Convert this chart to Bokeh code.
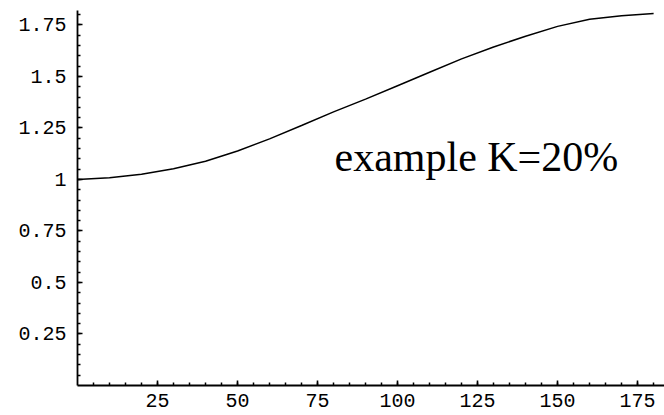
from bokeh.plotting import figure
from bokeh.models import Range1d, FixedTicker, Label, ColumnDataSource
from bokeh.embed import file_html
from bokeh.resources import INLINE

# data
xs = [0, 10, 20, 30, 40, 50, 60, 70, 80, 90, 100, 110, 120, 130, 140, 150, 160, 170, 180]
ys = [1.000, 1.008, 1.025, 1.052, 1.088, 1.138, 1.197, 1.262, 1.328, 1.390,
      1.455, 1.520, 1.585, 1.643, 1.695, 1.743, 1.778, 1.795, 1.805]
x_ticks = [25, 50, 75, 100, 125, 150, 175]
y_ticks = [0.25, 0.5, 0.75, 1.0, 1.25, 1.5, 1.75]
y_tick_labels = {0.25: "0.25", 0.5: "0.5", 0.75: "0.75", 1.0: "1",
                 1.25: "1.25", 1.5: "1.5", 1.75: "1.75"}
annotation = "example K=20%"

p = figure(width=664, height=415, output_backend="svg", toolbar_location=None,
           x_range=Range1d(0, 183.4), y_range=Range1d(0, 1.82),
           min_border_left=77, min_border_bottom=30, min_border_top=10,
           min_border_right=0)
p.outline_line_color = None
p.xgrid.visible = False
p.ygrid.visible = False
p.background_fill_color = "white"
p.border_fill_color = "white"

src = ColumnDataSource(dict(x=xs, y=ys))
p.line("x", "y", source=src, line_color="black", line_width=1.5)

for ax in (p.xaxis[0], p.yaxis[0]):
    ax.axis_line_width = 1.8
    ax.axis_line_color = "black"
    ax.major_tick_in = 5
    ax.major_tick_out = 0
    ax.minor_tick_in = 3
    ax.minor_tick_out = 0
    ax.major_tick_line_width = 1.6
    ax.minor_tick_line_width = 1.5
    ax.major_tick_line_color = "black"
    ax.minor_tick_line_color = "black"
    ax.major_label_text_font = "Liberation Mono"
    ax.major_label_text_font_size = "20px"
    ax.major_label_text_color = "black"

p.xaxis[0].ticker = FixedTicker(ticks=x_ticks, minor_ticks=list(range(5, 185, 5)))
p.yaxis[0].ticker = FixedTicker(ticks=y_ticks,
                                minor_ticks=[round(0.05 * i, 2) for i in range(1, 37)])
p.yaxis[0].major_label_overrides = y_tick_labels
p.xaxis[0].major_label_standoff = 8
p.yaxis[0].major_label_standoff = 11

p.add_layout(Label(x=80.3, y=1.107, text=annotation, text_font="Liberation Serif",
                   text_font_size="42px", text_color="black",
                   text_baseline="alphabetic"))

open("out.html", "w").write(file_html(p, INLINE))
